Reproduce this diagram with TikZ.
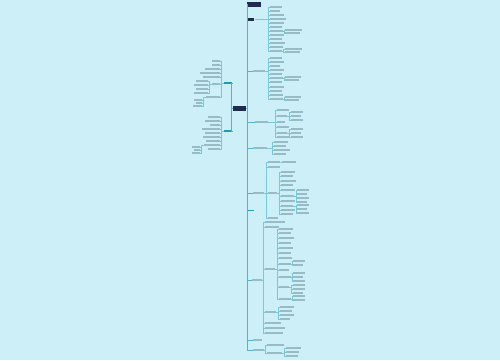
\documentclass[tikz,border=0pt]{standalone}
\definecolor{bg}{HTML}{CDEFF7}
\definecolor{navy}{HTML}{1E2B4F}
\definecolor{tealc}{HTML}{1E9BB5}
\definecolor{ln}{HTML}{78C8DA}
\definecolor{trk}{HTML}{4FB4CC}
\definecolor{tx}{HTML}{98BCC6}
\tikzset{
  tb/.style={fill=tx, inner sep=0, minimum height=1.4pt, anchor=west},
  tbl/.style={fill=tx, inner sep=0, minimum height=1.4pt, anchor=east},
  conn/.style={draw=ln, line width=0.4pt},
  trunk/.style={draw=trk, line width=0.7pt},
  navybox/.style={fill=navy, inner sep=0},
  tealbar/.style={fill=tealc, inner sep=0, minimum height=1.6pt},
}
\newcommand\kids[5]{% parent, prefix, x, gap, list y/w
  \foreach \yy/\ww [count=\i] in {#5} {
    \node[tb, minimum width=\ww pt] (#2\i) at (#3,\yy) {};
    \draw[conn] (#1.east) -- ++(#4,0) |- (#2\i.west);
  }}
\newcommand\lkids[5]{% parent, prefix, x(right), gap, list y/w
  \foreach \yy/\ww [count=\i] in {#5} {
    \node[tbl, minimum width=\ww pt] (#2\i) at (#3,\yy) {};
    \draw[conn] (#1.west) -- ++(-#4,0) |- (#2\i.east);
  }}
\begin{document}
\begin{tikzpicture}[x=1pt,y=-1pt]
\fill[bg] (0,0) rectangle (500,360);
\useasboundingbox (0,0) rectangle (500,360);

% root and title
\node[navybox, minimum width=13pt, minimum height=5pt] (root) at (239.5,108) {};
\node[navybox, minimum width=14pt, minimum height=4.5pt, anchor=west] (top) at (247,4.5) {};
\draw[trunk] (root.east) -- ++(1,0) |- (top.west);

% ---------- right side ----------
\node[navybox, minimum width=6pt, minimum height=3.5pt, anchor=west] (r1) at (247.5,19.5) {};
\draw[trunk] (root.east) -- ++(1,0) |- (r1.west);
\node[tb, minimum width=11pt] (r1t) at (255,19.5) {};
\kids{r1t}{ra}{270}{2}{7/12,11/10,15/14,19/16,23/14,27/12,31/13,35/14,39/12,43/15,47/13,51/12}
\kids{ra7}{raa}{285}{1}{30/17,33/15}
\kids{ra12}{rab}{285}{1}{49/17,52/15}

\node[tb, minimum width=12pt] (r2t) at (253,71) {};
\draw[trunk] (root.east) -- ++(1,0) |- (r2t.west);
\kids{r2t}{rb}{270}{3}{58/12,62/14,66/10,70/14,74/12,78/13,82/12,87/14,91/12,95/13,99/13}
\kids{rb6}{rba}{285}{1}{77/16,80/14}
\kids{rb11}{rbb}{285}{1}{97/16,100/14}

\node[tb, minimum width=13pt] (r3t) at (255,122) {};
\draw[trunk] (root.east) -- ++(1,0) |- (r3t.west);
\kids{r3t}{rc}{277}{7}{110/12,116/10,122/8,127/12,133/10,137/12}
\kids{rc2}{rca}{291}{2}{112/12,116/10,120/12}
\kids{rc5}{rcb}{291}{2}{129/12,133/10,137/12}

\node[tb, minimum width=14pt] (r4t) at (253,148) {};
\draw[trunk] (root.east) -- ++(1,0) |- (r4t.west);
\kids{r4t}{rd}{274}{5}{142/14,146/12,150/16,154/12}

\node[tb, minimum width=11pt] (r6t) at (253,193) {};
\draw[trunk] (root.east) -- ++(1,0) |- (r6t.west);
\kids{r6t}{re}{268}{2}{162/12,167/12,193/9,218/10}
\kids{re1}{rea}{282}{1}{162/14}
\kids{re3}{reb}{281}{2}{172/14,176/12,181/15,185/12,190/14,196/13,201/14,206/12,210/14,214/12}
\kids{reb6}{rec}{297}{2}{190/12,194/10,198/12,202/10}
\kids{reb8}{red}{297}{3}{205/12,209/10,213/12}

\node[tealbar, minimum width=6pt, anchor=west] (r7) at (247.5,210.5) {};
\draw[trunk] (root.east) -- ++(1,0) |- (r7.west);

\node[tb, minimum width=10pt] (r8t) at (252,280) {};
\draw[trunk] (root.east) -- ++(1,0) |- (r8t.west);
\kids{r8t}{rf}{265}{1}{222/20,227/14,269/10,312/11,323/16,328/20,333/18}
\kids{rf3}{rg}{279}{2}{229/14,233/12,238/15,243/12,248/14,253/12,258/13,264/12,270/10,277/12,287/10,299/12}
\kids{rg8}{rga}{293}{1}{261/12,265/10}
\kids{rg10}{rgb}{293}{1}{273/12,277/10,281/12}
\kids{rg11}{rgc}{293}{2}{285/12,289/12,293/10}
\kids{rg12}{rgd}{293}{1}{296/12,300/12}
\kids{rf4}{rh}{280}{2}{307/14,311/12,315/14,319/10}

\node[tb, minimum width=9pt] (r9t) at (253,340) {};
\draw[trunk] (root.east) -- ++(1,0) |- (r9t.west);

\node[tb, minimum width=11pt] (r10t) at (253,350) {};
\draw[trunk] (root.east) -- ++(1,0) |- (r10t.west);
\kids{r10t}{ri}{267}{1}{345/17,353/15}
\kids{ri2}{ria}{286}{2}{348/15,352/13,356/12}

% ---------- left side ----------
\node[tealbar, minimum width=8pt, anchor=east] (l1) at (232,83) {};
\node[tealbar, minimum width=8pt, anchor=east] (l2) at (232,131) {};
\draw[trunk] (root.west) -- ++(-1,0) |- (l1.east);
\draw[trunk] (root.west) -- ++(-1,0) |- (l2.east);

\lkids{l1}{la}{220}{2}{61/8,65/8,69/15,73/20,77/17,84/8,97/14}
\lkids{la6}{laa}{208}{2}{81/12,85/14,89/12,93/14}
\lkids{la7}{lab}{202}{2}{100/8,103/6,106/9}

\lkids{l2}{lb}{220}{2}{117/12,121/15,125/10,129/18,133/15,137/17,141/14,145/16,149/12}
\lkids{lb8}{lba}{200}{2}{147/8,150/6,153/8}
\end{tikzpicture}
\end{document}
